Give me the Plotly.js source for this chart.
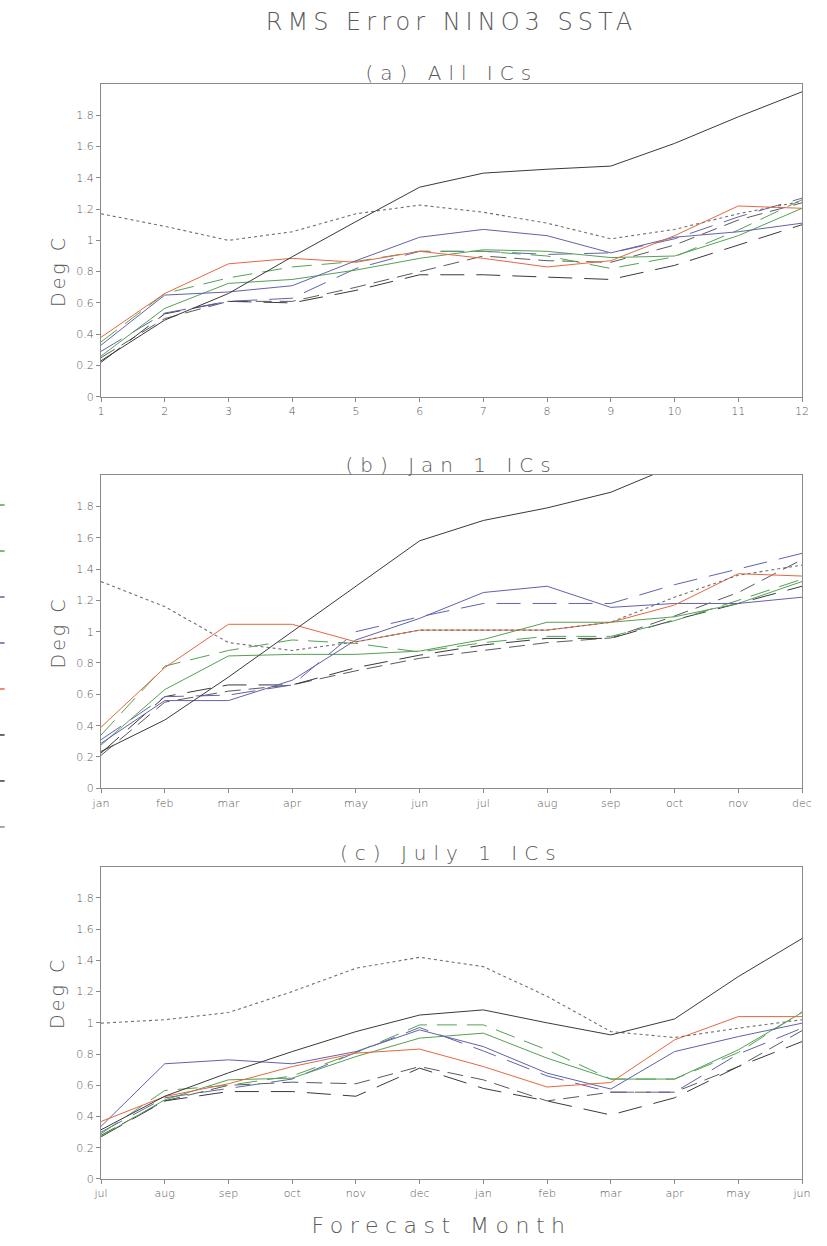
<!DOCTYPE html>
<html>
<head>
<meta charset="utf-8">
<script src="https://cdn.plot.ly/plotly-3.0.1.min.js"></script>
<style>
  html, body { margin: 0; padding: 0; background: #fff; }
  #chart { width: 827px; height: 1246px; }
  .js-plotly-plot .gtitle { letter-spacing: 5px; }
</style>
</head>
<body>
<div id="chart"></div>
<script>
// ---------- data ----------
const leadMonths = [1,2,3,4,5,6,7,8,9,10,11,12];
const janMonths = ["jan","feb","mar","apr","may","jun","jul","aug","sep","oct","nov","dec"];
const julMonths = ["jul","aug","sep","oct","nov","dec","jan","feb","mar","apr","may","jun"];
const yTickVals = [0,0.2,0.4,0.6,0.8,1,1.2,1.4,1.6,1.8];
const yTickText = ["0","0.2","0.4","0.6","0.8","1","1.2","1.4","1.6","1.8"];

// (a) All ICs
const a_blackSolid = [0.23,0.49,0.66,0.895,1.12,1.34,1.43,1.455,1.475,1.62,1.79,1.95];
const a_dotted     = [1.17,1.09,1.0,1.055,1.17,1.226,1.18,1.11,1.01,1.07,1.17,1.25];
const a_blueSolid  = [0.33,0.65,0.67,0.71,0.87,1.02,1.07,1.03,0.92,1.02,1.055,1.11];
const a_red        = [0.38,0.66,0.85,0.885,0.86,0.93,0.885,0.83,0.87,1.03,1.22,1.205];
const a_greenSolid = [0.26,0.565,0.725,0.75,0.81,0.885,0.94,0.93,0.89,0.90,1.03,1.205];
const a_greenDash  = [0.35,0.66,0.76,0.83,0.865,0.93,0.93,0.90,0.82,0.895,1.066,1.26];
const a_blueDash   = [0.29,0.535,0.61,0.63,0.82,0.93,0.93,0.91,0.92,1.01,1.15,1.27];
const a_blackDash  = [0.22,0.53,0.61,0.60,0.68,0.78,0.78,0.765,0.75,0.84,0.97,1.10];
const a_grayDash   = [0.25,0.50,0.61,0.61,0.70,0.80,0.90,0.87,0.86,0.97,1.13,1.24];

// (b) Jan 1 ICs
const b_blackSolid = [0.235,0.436,0.71,1.0,1.29,1.58,1.71,1.79,1.89,2.06,null,null];
const b_dotted     = [1.32,1.16,0.93,0.88,0.935,1.01,1.01,1.01,1.06,1.22,1.36,1.425];
const b_red        = [0.39,0.77,1.047,1.047,0.935,1.01,1.01,1.01,1.06,1.17,1.37,1.355];
const b_greenSolid = [0.276,0.63,0.845,0.855,0.855,0.876,0.95,1.06,1.06,1.095,1.18,1.32];
const b_greenDash  = [0.34,0.78,0.88,0.947,0.925,0.87,0.93,0.97,0.97,1.07,1.2,1.335];
const b_blueSolid  = [0.287,0.56,0.56,0.69,0.947,1.085,1.25,1.29,1.155,1.18,1.18,1.22];
const b_blueDash   = [0.31,0.585,0.595,0.66,1.0,1.095,1.18,1.18,1.18,1.30,1.40,1.50];
const b_blackDash  = [0.225,0.585,0.66,0.66,0.77,0.85,0.915,0.957,0.957,1.075,1.18,1.29];
const b_grayDash   = [0.21,0.55,0.62,0.66,0.75,0.83,0.88,0.93,0.96,1.1,1.25,1.46];

// (c) July 1 ICs
const c_blackSolid = [0.315,0.53,0.68,0.816,0.944,1.05,1.083,1.0,0.923,1.025,1.296,1.54];
const c_dotted     = [0.998,1.02,1.066,1.2,1.35,1.42,1.36,1.17,0.944,0.906,0.966,1.02];
const c_blueSolid  = [0.337,0.738,0.763,0.738,0.816,0.955,0.848,0.678,0.576,0.816,0.912,0.998];
const c_red        = [0.368,0.528,0.61,0.72,0.806,0.832,0.72,0.589,0.618,0.891,1.04,1.04];
const c_greenSolid = [0.273,0.507,0.635,0.646,0.784,0.902,0.934,0.774,0.64,0.64,0.827,1.066];
const c_greenDash  = [0.29,0.567,0.6,0.66,0.81,0.987,0.987,0.827,0.64,0.64,0.81,1.07];
const c_blueDash   = [0.30,0.52,0.58,0.64,0.81,0.97,0.82,0.66,0.556,0.556,0.80,0.966];
const c_blackDash  = [0.27,0.5,0.56,0.56,0.53,0.71,0.58,0.50,0.41,0.52,0.72,0.88];
const c_grayDash   = [0.28,0.5,0.6,0.62,0.61,0.72,0.635,0.50,0.556,0.556,0.72,0.95];

// ---------- styles ----------
const GREEN = "#55a055", BLUE = "#6262aa", RED = "#e4693e", BLACK = "#3a3a3a", GRAY = "#707070";
const styles = {
  blackSolid: {color: BLACK, width: 1, dash: "solid"},
  dotted:     {color: GRAY,  width: 1.1, dash: "3px,3px"},
  blueSolid:  {color: BLUE,  width: 1, dash: "solid"},
  red:        {color: RED,   width: 1, dash: "solid"},
  greenSolid: {color: GREEN, width: 1, dash: "solid"},
  greenDash:  {color: GREEN, width: 1, dash: "20px,10px"},
  blueDash:   {color: BLUE,  width: 1, dash: "24px,12px"},
  blackDash:  {color: BLACK, width: 1, dash: "24px,12px"},
  grayDash:   {color: "#5a5a5a", width: 1, dash: "16px,8px"}
};

function panel(xs, d, xa, ya) {
  const keys = ["grayDash","blackDash","blueDash","greenDash","greenSolid","blueSolid","red","dotted","blackSolid"];
  return keys.map(k => ({
    type: "scatter", mode: "lines", x: xs, y: d[k],
    xaxis: xa, yaxis: ya, line: styles[k], showlegend: false, hoverinfo: "skip",
    connectgaps: false
  }));
}

const traces = [].concat(
  panel(leadMonths, {blackSolid:a_blackSolid, dotted:a_dotted, blueSolid:a_blueSolid, red:a_red, greenSolid:a_greenSolid, greenDash:a_greenDash, blueDash:a_blueDash, blackDash:a_blackDash, grayDash:a_grayDash}, "x", "y"),
  panel(janMonths, {blackSolid:b_blackSolid, dotted:b_dotted, blueSolid:b_blueSolid, red:b_red, greenSolid:b_greenSolid, greenDash:b_greenDash, blueDash:b_blueDash, blackDash:b_blackDash, grayDash:b_grayDash}, "x2", "y2"),
  panel(julMonths, {blackSolid:c_blackSolid, dotted:c_dotted, blueSolid:c_blueSolid, red:c_red, greenSolid:c_greenSolid, greenDash:c_greenDash, blueDash:c_blueDash, blackDash:c_blackDash, grayDash:c_grayDash}, "x3", "y3")
);

const FONT = "DejaVu Sans, sans-serif";
const TXT = "#5a5a5a";
const tickFont = {family: FONT, size: 11, color: "#555", weight: 200};
const axisCommon = {
  showline: true, linecolor: "#8a8a8a", linewidth: 1, mirror: true,
  ticks: "outside", ticklen: 4, tickcolor: "#8a8a8a", tickwidth: 1,
  showgrid: false, zeroline: false, tickfont: tickFont, fixedrange: true
};
function yax(domain, anchor) {
  return Object.assign({}, axisCommon, {domain: domain, anchor: anchor, range: [0, 2],
    tickvals: yTickVals, ticktext: yTickText});
}
const labelFont = (s) => ({family: FONT, size: s, color: TXT, weight: 200});
const layout = {
  width: 827, height: 1246,
  margin: {l: 101, r: 25, t: 84, b: 67},
  paper_bgcolor: "#fff", plot_bgcolor: "#fff",
  title: {text: "RMS Error NINO3 SSTA", x: 0.5, xref: "paper", y: 0.9823, yref: "container",
          yanchor: "middle", font: labelFont(24)},
  xaxis:  Object.assign({}, axisCommon, {anchor: "y",  range: [1, 12], tickvals: leadMonths, ticktext: leadMonths.map(String)}),
  xaxis2: Object.assign({}, axisCommon, {anchor: "y2", type: "category", range: [0, 11], categoryorder: "array", categoryarray: janMonths}),
  xaxis3: Object.assign({}, axisCommon, {anchor: "y3", type: "category", range: [0, 11], categoryorder: "array", categoryarray: julMonths}),
  yaxis:  yax([0.7144, 1], "x"),
  yaxis2: yax([0.3568, 0.6429], "x2"),
  yaxis3: yax([0, 0.2852], "x3"),
  annotations: [
    {text: "(a) All ICs",   xref: "paper", yref: "paper", x: 0.5, y: 1.010, showarrow: false, yanchor: "middle", font: labelFont(20)},
    {text: "(b) Jan 1 ICs", xref: "paper", yref: "paper", x: 0.5, y: 0.652, showarrow: false, yanchor: "middle", font: labelFont(20)},
    {text: "(c) July 1 ICs",xref: "paper", yref: "paper", x: 0.5, y: 0.2977, showarrow: false, yanchor: "middle", font: labelFont(20)},
    {text: "Deg C", xref: "paper", yref: "paper", x: -0.08, y: 0.8575, textangle: -90, showarrow: false, font: labelFont(19)},
    {text: "Deg C", xref: "paper", yref: "paper", x: -0.08, y: 0.4995, textangle: -90, showarrow: false, font: labelFont(19)},
    {text: "Deg C", xref: "paper", yref: "paper", x: -0.08, y: 0.1425, textangle: -90, showarrow: false, font: labelFont(19)},
    {text: "Forecast Month", xref: "paper", yref: "paper", x: 0.486, y: -0.0426, yanchor: "middle", showarrow: false, font: labelFont(22)}
  ],
  shapes: []
};
const annSpacing = ["7px","7px","7px","3px","3px","3px","6.5px"];

// cut-off legend fragments at the far left edge
const legendColors = [GREEN, GREEN, BLUE, BLUE, RED, BLACK, BLACK, "#888"];
const legendY = [0.6155, 0.5735, 0.5315, 0.4895, 0.4475, 0.4055, 0.3635, 0.3215];
legendColors.forEach((c, i) => {
  layout.shapes.push({type: "line", xref: "paper", yref: "paper", x0: -0.1445, x1: -0.1375,
    y0: legendY[i], y1: legendY[i], line: {color: c, width: 1.5}});
});

Plotly.newPlot("chart", traces, layout, {staticPlot: true, displayModeBar: false}).then(() => {
  document.querySelectorAll(".annotation").forEach((g, i) => {
    const t = g.querySelector(".annotation-text");
    if (t) t.style.letterSpacing = annSpacing[i] || "3px";
  });
});
</script>
</body>
</html>
